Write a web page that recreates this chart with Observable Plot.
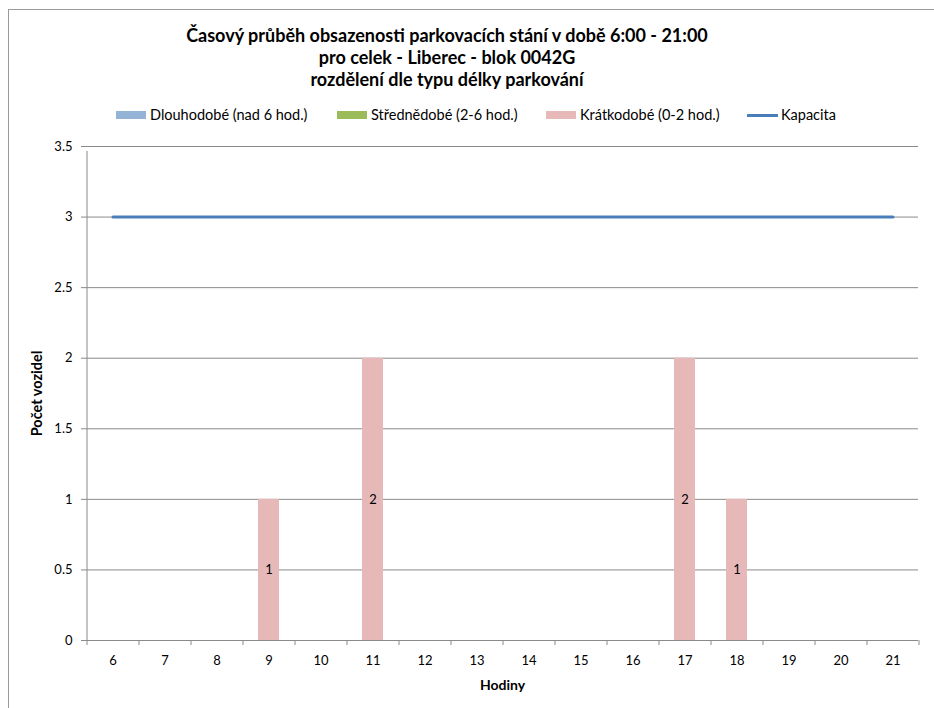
<!DOCTYPE html>
<html>
<head>
<meta charset="utf-8">
<script src="https://cdn.jsdelivr.net/npm/d3@7"></script>
<script src="https://cdn.jsdelivr.net/npm/@observablehq/plot@0.6"></script>
<style>
  html, body { margin: 0; padding: 0; background: #fff; }
  #wrap { position: relative; width: 934px; height: 708px; overflow: hidden; font-family: Lato, "Open Sans", sans-serif; }
  #border { position: absolute; left: 8px; top: 9px; width: 3000px; height: 3000px; border-top: 1.5px solid #9a9a9a; border-left: 1.5px solid #9a9a9a; }
  #title { position: absolute; left: 0; width: 894px; top: 25px; text-align: center; font-weight: bold; font-size: 18px; line-height: 21.8px; color: #000; white-space: nowrap; }
  .leg { position: absolute; top: 106px; font-size: 14.5px; color: #000; white-space: nowrap; line-height: 18px; display: flex; align-items: center; }
  .sw { display: inline-block; width: 30px; height: 8px; margin-right: 4px; }
  .ln { display: inline-block; width: 31px; height: 3px; margin-right: 3px; }
  #chart { position: absolute; left: 0; top: 130px; }
</style>
</head>
<body>
<div id="wrap">
  <div id="border"></div>
  <div id="title"></div>
  <div id="legend"></div>
  <div id="chart"></div>
</div>
<script>
const titleLines = [
  "Časový průběh obsazenosti parkovacích stání v době 6:00 - 21:00",
  "pro celek - Liberec - blok 0042G",
  "rozdělení dle typu délky parkování"
];
const hours = [6, 7, 8, 9, 10, 11, 12, 13, 14, 15, 16, 17, 18, 19, 20, 21];
const seriesNames = ["Dlouhodobé (nad 6 hod.)", "Střednědobé (2-6 hod.)", "Krátkodobé (0-2 hod.)"];
const seriesColors = ["#95b3d7", "#9bbb59", "#e6b9b8"];
const longTerm   = [0, 0, 0, 0, 0, 0, 0, 0, 0, 0, 0, 0, 0, 0, 0, 0];
const mediumTerm = [0, 0, 0, 0, 0, 0, 0, 0, 0, 0, 0, 0, 0, 0, 0, 0];
const shortTerm  = [0, 0, 0, 1, 0, 2, 0, 0, 0, 0, 0, 2, 1, 0, 0, 0];
const capacityName = "Kapacita";
const capacityColor = "#4a7ebb";
const capacity   = [3, 3, 3, 3, 3, 3, 3, 3, 3, 3, 3, 3, 3, 3, 3, 3];
const yTicks = [0, 0.5, 1, 1.5, 2, 2.5, 3, 3.5];
const xLabel = "Hodiny";
const yLabel = "Počet vozidel";

// title
const t = document.getElementById("title");
titleLines.forEach(s => { const d = document.createElement("div"); d.textContent = s; t.appendChild(d); });

// legend
const legendLeft = [116, 337, 546, 747];
const lg = document.getElementById("legend");
seriesNames.forEach((name, i) => {
  const it = document.createElement("div");
  it.className = "leg"; it.style.left = legendLeft[i] + "px";
  const sw = document.createElement("span"); sw.className = "sw"; sw.style.background = seriesColors[i];
  it.appendChild(sw); it.appendChild(document.createTextNode(name));
  lg.appendChild(it);
});
{
  const it = document.createElement("div");
  it.className = "leg"; it.style.left = legendLeft[3] + "px";
  const sw = document.createElement("span"); sw.className = "ln"; sw.style.background = capacityColor;
  it.appendChild(sw); it.appendChild(document.createTextNode(capacityName));
  lg.appendChild(it);
}

// data table
const seriesValues = [longTerm, mediumTerm, shortTerm];
const rows = [];
seriesNames.forEach((name, s) => hours.forEach((h, i) => rows.push({hour: h, series: name, value: seriesValues[s][i]})));
const capRows = hours.map((h, i) => ({hour: h, value: capacity[i]}));

const halfStep = 26;
const gridColor = "#8a8a8a";
const fs = 13;

const chart = Plot.plot({
  width: 934,
  height: 578,
  marginLeft: 86,
  marginRight: 16,
  marginTop: 16,
  marginBottom: 68,
  style: {fontFamily: "Lato, 'Open Sans', sans-serif", fontSize: fs + "px", color: "#000", background: "transparent"},
  x: {type: "band", domain: hours, paddingInner: 0.6, paddingOuter: 0.3},
  y: {domain: [yTicks[0], yTicks[yTicks.length - 1]]},
  color: {domain: seriesNames, range: seriesColors},
  marks: [
    Plot.ruleY(yTicks, {stroke: gridColor, strokeWidth: 1, insetLeft: -5}),
    Plot.ruleX([hours[0]], {x: d => d, y1: yTicks[0], y2: yTicks[yTicks.length - 1], dx: -halfStep, stroke: gridColor, insetBottom: -5}),
    Plot.ruleX(hours, {x: d => d, y1: 0, y2: 0, dx: -halfStep, stroke: gridColor, insetBottom: -5}),
    Plot.ruleX([hours[hours.length - 1]], {x: d => d, y1: 0, y2: 0, dx: halfStep, stroke: gridColor, insetBottom: -5}),
    Plot.barY(rows, {x: "hour", y: "value", fill: "series", order: seriesNames}),
    Plot.text(rows.filter(d => d.value > 0), Plot.stackY({x: "hour", y: "value", z: "series", order: seriesNames, text: d => String(d.value), fill: "#000", fontSize: fs})),
    Plot.lineY(capRows, {x: "hour", y: "value", stroke: capacityColor, strokeWidth: 3}),
    Plot.axisX({tickSize: 0, tickPadding: 15, label: null, fontSize: fs}),
    Plot.axisY({ticks: yTicks, tickSize: 0, tickPadding: 14, tickFormat: d => String(d), label: null, fontSize: fs}),
    Plot.text([xLabel], {frameAnchor: "bottom", lineAnchor: "middle", textAnchor: "middle", dy: 45, fontWeight: "bold", fontSize: 14, fill: "#000"}),
    Plot.text([yLabel], {frameAnchor: "left", lineAnchor: "middle", textAnchor: "middle", dx: -49, rotate: -90, fontWeight: "bold", fontSize: 14.5, fill: "#000"})
  ]
});
document.getElementById("chart").appendChild(chart);
</script>
</body>
</html>
